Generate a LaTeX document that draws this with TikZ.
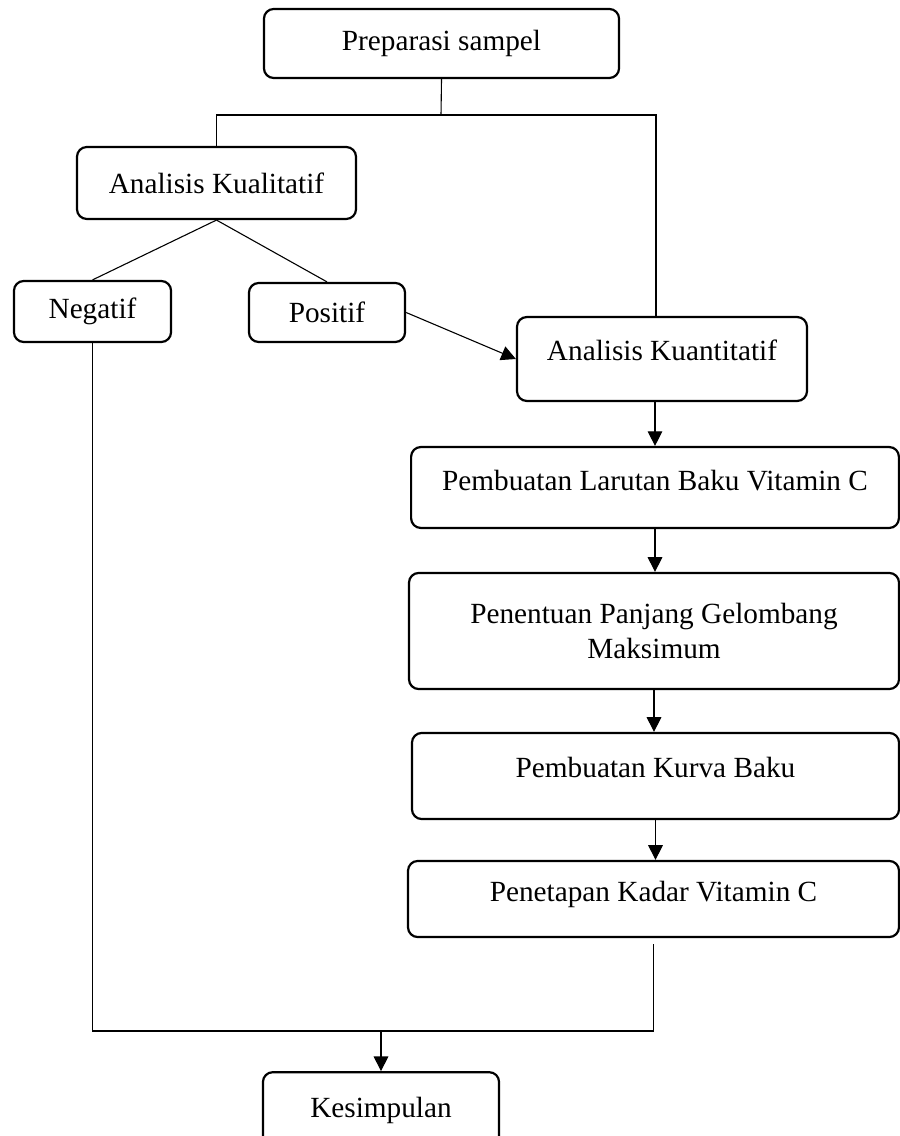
\documentclass[tikz,border=0pt]{standalone}
\usepackage{fontspec}
\setmainfont{Liberation Serif}
\usetikzlibrary{arrows.meta}
\tikzset{box/.style={draw, rounded corners=4pt, line width=0.9pt, align=center, inner sep=2pt, font=\fontsize{12}{14.4}\selectfont}}
\tikzset{link/.style={line width=0.45pt}}
\tikzset{flow/.style={line width=0.45pt, -{Triangle[length=6pt,width=6pt]}}}

\begin{document}
\begin{tikzpicture}[x=0.41pt, y=-0.41pt]
\useasboundingbox (0,0) rectangle (900,1136);
\node [box, minimum width=145.6pt, minimum height=28.3pt] (prep) at (441.5,43.5) {Preparasi sampel};
\node [box, minimum width=114.4pt, minimum height=29.5pt] (kual) at (216.5,183) {Analisis Kualitatif};
\node [box, minimum width=64.4pt, minimum height=25pt] (neg) at (92.5,311.5) {Negatif};
\node [box, minimum width=64pt, minimum height=24.2pt] (pos) at (327,312.5) {Positif};
\node [box, minimum width=118.9pt, minimum height=34.4pt, text depth=7.4pt] (kuan) at (662,359) {Analisis Kuantitatif};
\node [box, minimum width=200pt, minimum height=33.2pt, text depth=6.2pt] (larutan) at (655,487.5) {Pembuatan Larutan Baku Vitamin C};
\node [box, minimum width=200.9pt, minimum height=47.6pt] (panjang) at (654,631) {Penentuan Panjang Gelombang\\Maksimum};
\node [box, minimum width=199.7pt, minimum height=35.3pt, text depth=7.4pt] (kurva) at (655.5,776) {Pembuatan Kurva Baku};
\node [box, minimum width=201.3pt, minimum height=31.2pt, text depth=6pt] (kadar) at (653.5,899) {Penetapan Kadar Vitamin C};
\node [box, minimum width=96.8pt, minimum height=31pt] (kes) at (381,1110) {Kesimpulan};
% cabang atas
\coordinate (split) at (441,115);
\coordinate (splitr) at (656,115);
\draw [link] (prep.south) -- (split);
\draw [link] (kual.north) |- (split) -- (splitr) -- (splitr |- kuan.north);
\draw [link] (kual.south) -- (neg.north);
\draw [link] (kual.south) -- (pos.north);
\draw [flow] (pos.east) -- (kuan.west);
% alur kuantitatif
\draw [flow] (kuan.south -| larutan.north) -- (larutan.north);
\draw [flow] (larutan.south) -- (larutan.south |- panjang.north);
\draw [flow] (panjang.south) -- (panjang.south |- kurva.north);
\draw [flow] (kurva.south) -- (kurva.south |- kadar.north);
% gabung ke kesimpulan
\coordinate (merge) at (381,1031);
\draw [link] (neg.south) -- (neg.south |- merge) -- (kadar.south |- merge) -- ([yshift=-2.5pt]kadar.south);
\draw [flow] (merge) -- (kes.north);
\end{tikzpicture}
\end{document}
